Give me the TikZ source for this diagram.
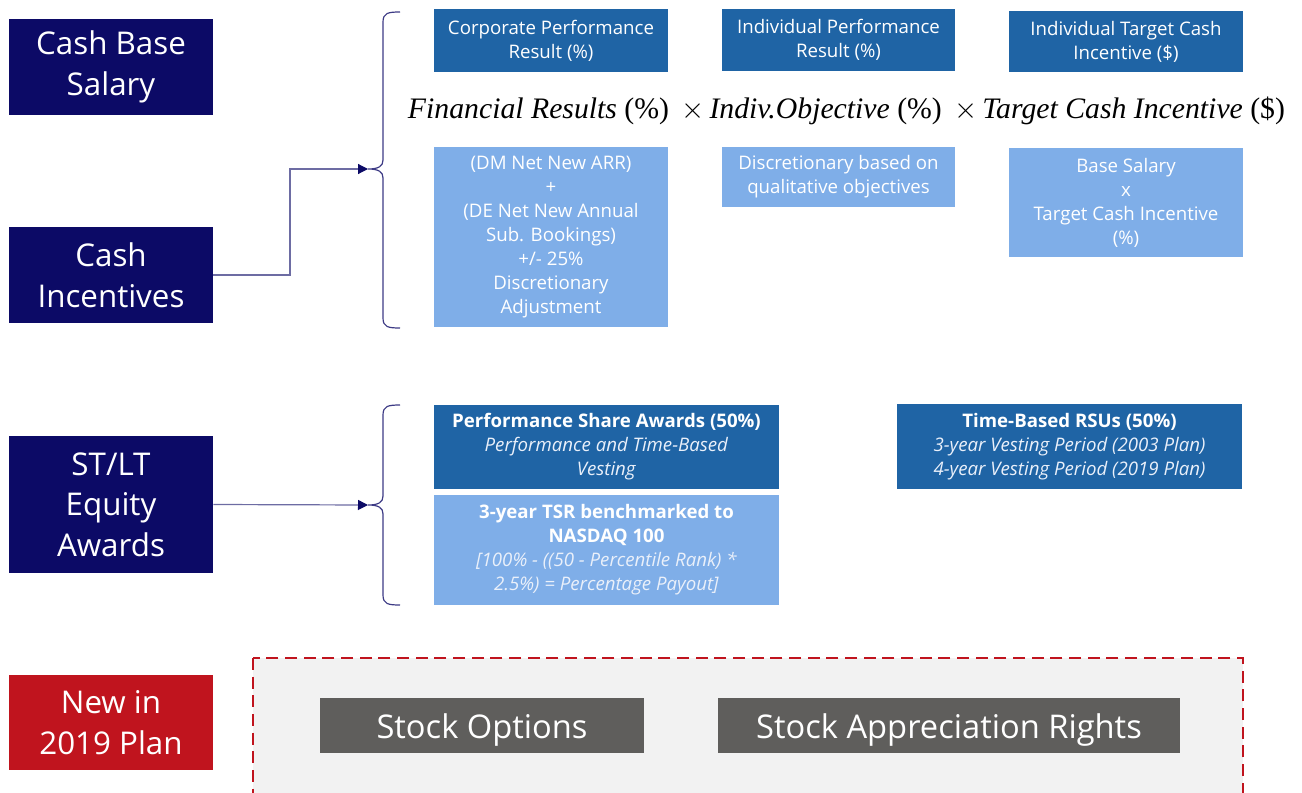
\documentclass[tikz,border=0pt]{standalone}
\usepackage{fontspec}
\usepackage{graphicx}
\setmainfont{Open Sans}
\newfontfamily\formfont{Liberation Serif}
\usetikzlibrary{arrows.meta}
\definecolor{navy}{HTML}{0C0A66}
\definecolor{midblue}{HTML}{1F64A5}
\definecolor{lightblue}{HTML}{7FAEE8}
\definecolor{redc}{HTML}{C0141E}
\definecolor{grayc}{HTML}{5F5E5C}
\definecolor{panel}{HTML}{F2F2F2}
\definecolor{paletext}{HTML}{EAF0FA}
\tikzset{
  lbl/.style={fill=navy, text=white, align=center, inner sep=0pt, minimum width=153pt, minimum height=72pt, font=\fontsize{23.5}{30.5}\selectfont},
  midbox/.style={fill=midblue, text=white, align=center, inner sep=0pt, font=\fontsize{14}{18}\selectfont},
  lightbox/.style={fill=lightblue, text=white, align=center, inner sep=0pt, font=\fontsize{14}{18}\selectfont},
  graybox/.style={fill=grayc, text=white, align=center, inner sep=0pt, minimum height=41.25pt, text height=26pt, text depth=5.9pt, font=\fontsize{24.5}{28}\selectfont},
  conn/.style={draw=navy!60, line width=0.9pt, -{Triangle[length=7.5pt,width=7.5pt,color=navy]}},
  bracel/.style={draw=navy!80, line width=0.9pt}
}
\begin{document}
\begin{tikzpicture}[x=0.75pt,y=-0.75pt]
\useasboundingbox (0,0) rectangle (1302,792);
% dashed panel
\begin{scope}
\clip (0,0) rectangle (1302,792);
\draw[fill=panel, draw=redc, line width=1.5pt, dash pattern=on 9pt off 5pt] (253,658) rectangle (1243,810);
\end{scope}
% left labels
\node[lbl] (csb) at (111,67) {Cash Base\\Salary};
\node[lbl] (ci) at (111,275) {Cash\\Incentives};
\node[lbl, minimum height=102.75pt] (eq) at (111,504.5) {ST/LT\\Equity\\Awards};
\node[lbl, fill=redc, minimum height=71.25pt] (new) at (111,722.5) {New in\\2019 Plan};
% top boxes
\node[midbox, minimum width=175.5pt, minimum height=47.25pt] (cpr) at (551,40.5) {Corporate Performance\\Result (\%)};
\node[midbox, minimum width=174.75pt, minimum height=46.5pt] (ipr) at (838.5,40) {Individual Performance\\Result (\%)};
\node[midbox, minimum width=175.5pt, minimum height=45.75pt] (itc) at (1126,41.5) {Individual Target Cash\\Incentive (\$)};
% formula
\node[inner sep=0pt] (form) at (846.5,111) {\resizebox{657.75pt}{!}{\formfont\textit{Financial Results} (\%) \,$\times$\,\textit{Indiv.Objective} (\%) \,$\times$\,\textit{Target Cash Incentive} (\$)}};
% light boxes
\node[lightbox, minimum width=175.5pt, minimum height=135pt] (dm) at (551,237) {(DM Net New ARR)\\+\\(DE Net New Annual\\Sub. Bookings)\\+/- 25\%\\Discretionary\\Adjustment};
\node[lightbox, minimum width=174.75pt, minimum height=45pt] (disc) at (838.5,177) {Discretionary based on\\qualitative objectives};
\node[lightbox, minimum width=175.5pt, minimum height=81.75pt] (bs) at (1126,202.5) {Base Salary\\x\\Target Cash Incentive\\(\%)};
% equity boxes
\node[midbox, minimum width=258.75pt, minimum height=63pt] (psa) at (606.5,447) {\textbf{Performance Share Awards (50\%)}\\\textcolor{paletext}{\textit{Performance and Time-Based}}\\\textcolor{paletext}{\textit{Vesting}}};
\node[lightbox, minimum width=258.75pt, minimum height=82.5pt] (tsr) at (606.5,550) {\textbf{3-year TSR benchmarked to}\\\textbf{NASDAQ 100}\\\textcolor{paletext}{\textit{[100\% - ((50 - Percentile Rank) *}}\\\textcolor{paletext}{\textit{2.5\%) = Percentage Payout]}}};
\node[midbox, minimum width=258.75pt, minimum height=63.75pt] (rsu) at (1069.5,446.5) {\textbf{Time-Based RSUs (50\%)}\\\textcolor{paletext}{\textit{3-year Vesting Period (2003 Plan)}}\\\textcolor{paletext}{\textit{4-year Vesting Period (2019 Plan)}}};
% new plan boxes
\node[graybox, minimum width=243pt] (so) at (482,725.5) {Stock Options};
\node[graybox, minimum width=346.5pt] (sar) at (949,725.5) {Stock Appreciation Rights};
% braces
\coordinate (b1) at (368,169);
\coordinate (b2) at (368,505);
\draw[bracel] (400,12) .. controls (388,12) and (383,13) .. (383,22) -- (383,160) .. controls (383,166) and (379,169) .. (b1) .. controls (379,169) and (383,172) .. (383,178) -- (383,318) .. controls (383,327) and (388,328) .. (400,328);
\draw[bracel] (400,405) .. controls (388,405) and (383,406) .. (383,415) -- (383,496) .. controls (383,502) and (379,505) .. (b2) .. controls (379,505) and (383,508) .. (383,514) -- (383,595) .. controls (383,604) and (388,605) .. (400,605);
% connectors
\draw[conn] (ci.east) -- (290,275) |- (b1);
\draw[conn] (eq.east) -- (b2);
\end{tikzpicture}
\end{document}
